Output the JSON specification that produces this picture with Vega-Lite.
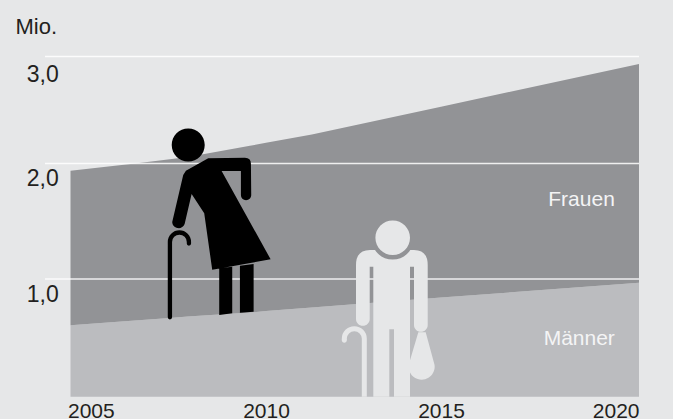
{
  "$schema": "https://vega.github.io/schema/vega-lite/v6.json",
  "width": 594,
  "height": 340.2,
  "autosize": {"type": "none"},
  "padding": {"left": 45, "top": 56.5, "right": 34, "bottom": 22.3},
  "background": "#e6e7e8",
  "view": {"stroke": null, "fill": null},
  "config": {"font": "Liberation Sans"},
  "datasets": {
    "bev": [
      {"jahr": 2005, "geschlecht": "Männer", "wert": 0.607}, {"jahr": 2005, "geschlecht": "Frauen", "wert": 1.331},
      {"jahr": 2006.65, "geschlecht": "Männer", "wert": 0.648}, {"jahr": 2006.65, "geschlecht": "Frauen", "wert": 1.352},
      {"jahr": 2007.54, "geschlecht": "Männer", "wert": 0.669}, {"jahr": 2007.54, "geschlecht": "Frauen", "wert": 1.37},
      {"jahr": 2008, "geschlecht": "Männer", "wert": 0.682}, {"jahr": 2008, "geschlecht": "Frauen", "wert": 1.379},
      {"jahr": 2009.59, "geschlecht": "Männer", "wert": 0.715}, {"jahr": 2009.59, "geschlecht": "Frauen", "wert": 1.451},
      {"jahr": 2010, "geschlecht": "Männer", "wert": 0.728}, {"jahr": 2010, "geschlecht": "Frauen", "wert": 1.465},
      {"jahr": 2011.31, "geschlecht": "Männer", "wert": 0.758}, {"jahr": 2011.31, "geschlecht": "Frauen", "wert": 1.513},
      {"jahr": 2015, "geschlecht": "Männer", "wert": 0.842}, {"jahr": 2015, "geschlecht": "Frauen", "wert": 1.689},
      {"jahr": 2020, "geschlecht": "Männer", "wert": 0.969}, {"jahr": 2020, "geschlecht": "Frauen", "wert": 1.961}
    ]
  },
  "layer": [
    {
      "data": {"name": "bev"},
      "mark": {"type": "area", "interpolate": "linear"},
      "encoding": {
        "x": {
          "field": "jahr", "type": "quantitative",
          "scale": {"domain": [2005, 2010, 2015, 2020], "range": [25.5, 221, 396, 594], "nice": false, "zero": false},
          "axis": {
            "values": [2005, 2010, 2015, 2020], "format": "d", "title": null, "grid": false, "domain": false, "ticks": false,
            "labelFontSize": 21, "labelColor": "#231f20", "labelPadding": 20.5, "labelBaseline": "alphabetic",
            "labelFlush": false, "labelOverlap": false,
            "labelAlign": {"condition": [{"test": "datum.value==2005", "value": "left"}, {"test": "datum.value==2020", "value": "right"}], "value": "center"},
            "labelOffset": {"condition": {"test": "datum.value==2005", "value": -3}, "value": 0}
          }
        },
        "y": {
          "field": "wert", "type": "quantitative", "stack": "zero",
          "scale": {"domain": [0, 1, 2, 3], "range": [340.2, 222.5, 107, 0], "nice": false, "zero": false},
          "axis": {
            "values": [1, 2, 3], "grid": false, "domain": false, "ticks": false,
            "labelExpr": "replace(format(datum.value,'.1f'),'.',',')",
            "labelFontSize": 23, "labelColor": "#231f20", "labelAlign": "right", "labelBaseline": "alphabetic", "labelPadding": -13.3,
            "labelOverlap": false, "labelFlush": false,
            "labelOffset": {"condition": [{"test": "datum.value==3", "value": 24.5}, {"test": "datum.value==2", "value": 21.5}], "value": 22.7},
            "title": "Mio.", "titleAngle": 0, "titleAlign": "left", "titleBaseline": "alphabetic", "titleX": -30, "titleY": -23,
            "titleFontSize": 22, "titleFontWeight": "normal", "titleColor": "#231f20"
          }
        },
        "color": {"field": "geschlecht", "type": "nominal", "legend": null, "scale": {"domain": ["Frauen", "Männer"], "range": ["#929396", "#bbbcbf"]}}
      }
    },
    {
      "data": {"values": [{"wert": 1}, {"wert": 2}, {"wert": 3}]},
      "mark": {"type": "rule", "stroke": "#ffffff", "strokeWidth": 1.3, "opacity": 0.85},
      "encoding": {"y": {"field": "wert", "type": "quantitative"}}
    },
    {
      "data": {"values": [{"figur": "Frau", "jahr": 2008.31, "wert": 0.8216}]},
      "mark": {"type": "point", "filled": true, "color": "#000000", "opacity": 1, "size": 4,
        "shape": "M-28.2 -155 A16.5 16.5 0 1 1 4.8 -155 A16.5 16.5 0 1 1 -28.2 -155 Z M8.3 -141.7 L45 -142.3 Q51 -142.3 51 -136.3 L51.3 -105 A5.15 5.15 0 0 1 41 -105 L41 -129 L21.7 -129 L70.7 -40.7 L12.3 -30.3 L4.3 -86.7 L-8.3 -106 L-15.3 -76 A6.4 6.4 0 0 1 -27.7 -78 L-16.7 -125 L-14 -129.3 Z M19.3 -31.7 L32.3 -33.3 L32.3 13.3 L19.3 15 Z M40 -34.3 L53.7 -36 L53.7 11.7 L40 12.7 Z"},
      "encoding": {"x": {"field": "jahr", "type": "quantitative"}, "y": {"field": "wert", "type": "quantitative"}}
    },
    {
      "data": {"values": [{"figur": "Stock Frau", "jahr": 2008.31, "wert": 0.8216}]},
      "mark": {"type": "point", "filled": false, "color": "#000000", "opacity": 1, "size": 4, "strokeWidth": 4.3, "strokeCap": "round",
        "shape": "M-30 17.3 L-30 -58 A9.5 9.5 0 0 1 -11 -58 L-11 -56.5"},
      "encoding": {"x": {"field": "jahr", "type": "quantitative"}, "y": {"field": "wert", "type": "quantitative"}}
    },
    {
      "data": {"values": [{"figur": "Mann", "jahr": 2013.543, "wert": 0}]},
      "mark": {"type": "point", "filled": true, "color": "#e6e7e8", "opacity": 1, "size": 4,
        "shape": "M-14.6 -159 A17.3 17.3 0 1 1 20 -159 A17.3 17.3 0 1 1 -14.6 -159 Z M-34 -77.7 L-34 -131.7 Q-34 -146.7 -20 -146.7 L-15 -146.7 A21 21 0 0 0 20.3 -146.7 L24 -146.7 Q37.7 -146.7 37.7 -131.7 L37.7 -71.7 A6.85 6.85 0 0 1 24 -71.7 L24 -130 L20 -130 L20 0 L4 0 L4 -67.4 L-0.7 -67.4 L-0.7 0 L-16.7 0 L-16.7 -130 L-20.3 -130 L-20.3 -77.7 A6.85 6.85 0 0 1 -34 -77.7 Z M28.3 -64.4 L35.7 -64.4 L44.5 -32 A13 13 0 1 1 19 -33 Z M-48.2 -56.5 A2.5 2.5 0 1 0 -43.2 -56.5 A2.5 2.5 0 1 0 -48.2 -56.5 Z"},
      "encoding": {"x": {"field": "jahr", "type": "quantitative"}, "y": {"field": "wert", "type": "quantitative"}}
    },
    {
      "data": {"values": [{"figur": "Stock Mann", "jahr": 2013.543, "wert": 0}]},
      "mark": {"type": "point", "filled": false, "color": "#e6e7e8", "opacity": 1, "size": 4, "strokeWidth": 5,
        "shape": "M-25.7 0 L-25.7 -58 A10 10 0 0 0 -45.7 -58 L-45.7 -56.5"},
      "encoding": {"x": {"field": "jahr", "type": "quantitative"}, "y": {"field": "wert", "type": "quantitative"}}
    },
    {
      "data": {"values": [{"label": "Frauen", "jahr": 2019.39, "wert": 1.635}, {"label": "Männer", "jahr": 2019.39, "wert": 0.439}]},
      "mark": {"type": "text", "align": "right", "baseline": "alphabetic", "fontSize": 21, "color": "#f4f4f5"},
      "encoding": {
        "x": {"field": "jahr", "type": "quantitative"},
        "y": {"field": "wert", "type": "quantitative"},
        "text": {"field": "label"}
      }
    }
  ]
}
